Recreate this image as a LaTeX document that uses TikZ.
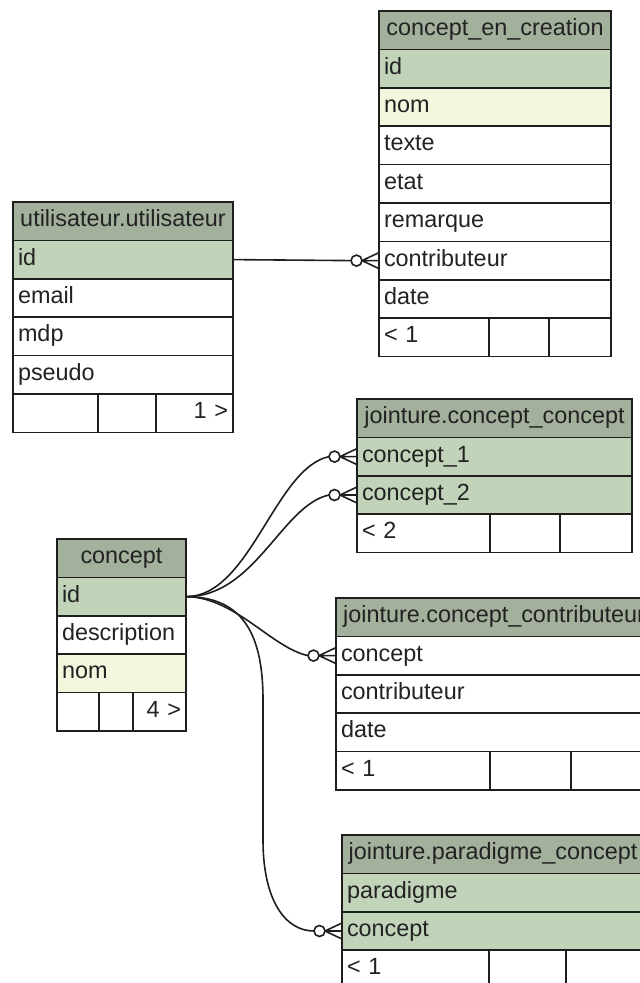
\documentclass[tikz,border=0pt]{standalone}
\usepackage{fontspec}
\setmainfont{Liberation Sans}
\usepackage{tikz}
\usetikzlibrary{positioning}
\definecolor{rim}{HTML}{1E1E1E}
\definecolor{headfill}{HTML}{A3B09B}
\definecolor{keyfill}{HTML}{C1D3B9}
\definecolor{uniqfill}{HTML}{F4F6DD}
\definecolor{ink}{HTML}{222222}
\tikzset{
  cell/.style={draw=rim, line width=1.6pt, rectangle, outer sep=0pt,
    inner xsep=5pt, inner ysep=0pt, minimum height=38.4pt,
    text height=19pt, text depth=8pt, align=left, text=ink,
    font=\fontsize{23.4}{28}\selectfont},
  tabhead/.style={cell, fill=headfill, align=center},
  keyrow/.style={cell, fill=keyfill},
  uniqrow/.style={cell, fill=uniqfill},
  plainrow/.style={cell, fill=white},
  footcell/.style={cell, fill=white},
  ring/.style={circle, draw=rim, fill=white, line width=1.6pt,
    minimum size=11pt, inner sep=0pt, outer sep=0pt},
  link/.style={draw=rim, line width=1.6pt}
}

\begin{document}
\begin{tikzpicture}[x=1pt, y=-1pt]
    \useasboundingbox (0,0) rectangle (640,983);
    \clip (0,0) rectangle (640,983);

    % concept_en_creation
    \node[tabhead, text width=222pt, anchor=north west] (cec-head) at (379,11) {concept\_en\_creation};
    \foreach \nm/\txt/\st [remember=\nm as \prev (initially head)] in
        {id/id/keyrow, nom/nom/uniqrow, texte/texte/plainrow, etat/etat/plainrow,
         remarque/remarque/plainrow, contrib/contributeur/plainrow, date/date/plainrow}
        \node[\st, text width=222pt, below=0pt of cec-\prev] (cec-\nm) {\txt};
    \node[footcell, text width=100pt, below=0pt of cec-date.south west, anchor=north west] (cec-f1) {< 1};
    \node[footcell, text width=50pt, right=0pt of cec-f1] (cec-f2) {};
    \node[footcell, text width=52pt, right=0pt of cec-f2] (cec-f3) {};

    % utilisateur.utilisateur
    \node[tabhead, text width=210pt, anchor=north west] (uti-head) at (13,202) {utilisateur.utilisateur};
    \foreach \nm/\txt/\st [remember=\nm as \prev (initially head)] in
        {id/id/keyrow, email/email/plainrow, mdp/mdp/plainrow, pseudo/pseudo/plainrow}
        \node[\st, text width=210pt, below=0pt of uti-\prev] (uti-\nm) {\txt};
    \node[footcell, text width=75pt, below=0pt of uti-pseudo.south west, anchor=north west] (uti-f1) {};
    \node[footcell, text width=48pt, right=0pt of uti-f1] (uti-f2) {};
    \node[footcell, text width=67pt, align=right, right=0pt of uti-f2] (uti-f3) {1 >};

    % jointure.concept_concept
    \node[tabhead, text width=265pt, anchor=north west] (jcc-head) at (357,399) {jointure.concept\_concept};
    \foreach \nm/\txt/\st [remember=\nm as \prev (initially head)] in
        {c1/concept\_1/keyrow, c2/concept\_2/keyrow}
        \node[\st, text width=265pt, below=0pt of jcc-\prev] (jcc-\nm) {\txt};
    \node[footcell, text width=123pt, below=0pt of jcc-c2.south west, anchor=north west] (jcc-f1) {< 2};
    \node[footcell, text width=60pt, right=0pt of jcc-f1] (jcc-f2) {};
    \node[footcell, text width=62pt, right=0pt of jcc-f2] (jcc-f3) {};

    % concept
    \node[tabhead, text width=119pt, anchor=north west] (con-head) at (57,539) {concept};
    \foreach \nm/\txt/\st [remember=\nm as \prev (initially head)] in
        {id/id/keyrow, descr/description/plainrow, nom/nom/uniqrow}
        \node[\st, text width=119pt, below=0pt of con-\prev] (con-\nm) {\txt};
    \node[footcell, text width=32pt, below=0pt of con-nom.south west, anchor=north west] (con-f1) {};
    \node[footcell, text width=24pt, right=0pt of con-f1] (con-f2) {};
    \node[footcell, text width=43pt, align=right, right=0pt of con-f2] (con-f3) {4 >};

    % jointure.concept_contributeur
    \node[tabhead, text width=306pt, anchor=north west] (jcoc-head) at (336,598) {jointure.concept\_contributeur};
    \foreach \nm/\txt/\st [remember=\nm as \prev (initially head)] in
        {concept/concept/plainrow, contrib/contributeur/plainrow, date/date/plainrow}
        \node[\st, text width=306pt, below=0pt of jcoc-\prev] (jcoc-\nm) {\txt};
    \node[footcell, text width=144pt, below=0pt of jcoc-date.south west, anchor=north west] (jcoc-f1) {< 1};
    \node[footcell, text width=71pt, right=0pt of jcoc-f1] (jcoc-f2) {};
    \node[footcell, text width=71pt, right=0pt of jcoc-f2] (jcoc-f3) {};

    % jointure.paradigme_concept
    \node[tabhead, text width=292pt, anchor=north west] (jpc-head) at (342,835) {jointure.paradigme\_concept};
    \foreach \nm/\txt/\st [remember=\nm as \prev (initially head)] in
        {para/paradigme/keyrow, concept/concept/keyrow}
        \node[\st, text width=292pt, below=0pt of jpc-\prev] (jpc-\nm) {\txt};
    \node[footcell, text width=137pt, below=0pt of jpc-concept.south west, anchor=north west] (jpc-f1) {< 1};
    \node[footcell, text width=67pt, right=0pt of jpc-f1] (jpc-f2) {};
    \node[footcell, text width=68pt, right=0pt of jpc-f2] (jpc-f3) {};

    % zero-or-many ends
    \foreach \tgt/\rg in {cec-contrib/r1, jcc-c1/r2, jcc-c2/r3, jcoc-concept/r4, jpc-concept/r5}{
        \node[ring, left=17pt of \tgt.west] (\rg) {};
        \draw[link] (\rg.east) -- (\tgt.west)
                    (\rg.east) -- ([yshift=8pt]\tgt.west)
                    (\rg.east) -- ([yshift=-8pt]\tgt.west);
    }

    % relations
    \draw[link] (uti-id.east) -- (r1.west);
    \draw[link] (con-id.east) .. controls (250,597) and (275,468) .. (r2.west);
    \draw[link] (con-id.east) .. controls (255,597) and (282,505) .. (r3.west);
    \draw[link] (con-id.east) .. controls (235,597) and (272,648) .. (r4.west);
    \draw[link] (con-id.east) .. controls (240,597) and (263,630) .. (263,700)
                -- (263,840) .. controls (263,900) and (285,931) .. (r5.west);
\end{tikzpicture}
\end{document}
